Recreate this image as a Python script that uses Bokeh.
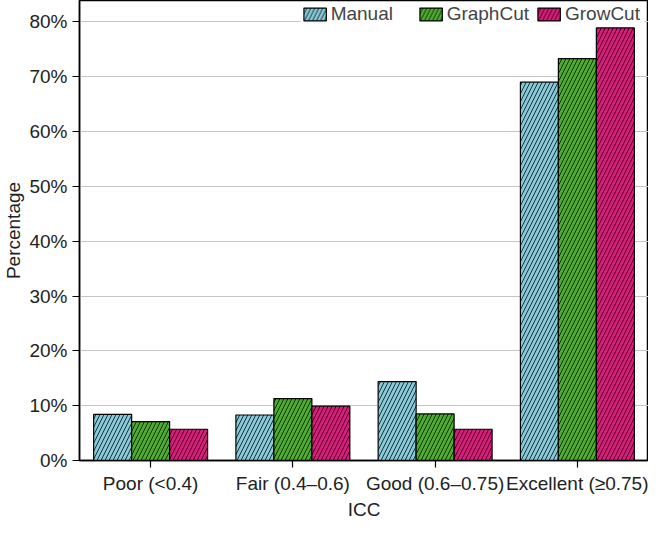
from bokeh.plotting import figure
from bokeh.models import ColumnDataSource, FactorRange, Range1d, FixedTicker, PrintfTickFormatter, Legend, LegendItem
from bokeh.transform import dodge
from bokeh.embed import file_html
from bokeh.resources import INLINE

categories = ["Poor (<0.4)", "Fair (0.4–0.6)", "Good (0.6–0.75)", "Excellent (≥0.75)"]
manual = [8.4, 8.3, 14.4, 69.0]
graphcut = [7.1, 11.3, 8.5, 73.3]
growcut = [5.7, 9.9, 5.7, 78.9]
series_names = ["Manual", "GraphCut", "GrowCut"]
y_ticks = [0, 10, 20, 30, 40, 50, 60, 70, 80]

colors = ["#86CBDA", "#4DB02D", "#DF1A7C"]
FONT = "Liberation Sans"
FS = "19px"

src = ColumnDataSource(dict(cat=categories, Manual=manual, GraphCut=graphcut, GrowCut=growcut))

p = figure(width=648, height=522, output_backend="svg", toolbar_location=None,
           x_range=FactorRange(factors=categories, range_padding=0),
           y_range=Range1d(0, 83.9))
p.min_border_left = 66
p.min_border_right = 0
p.min_border_top = 0
p.min_border_bottom = 50

bw = 0.267
offsets = [-bw, 0, bw]
renderers = []
for name, off, c in zip(series_names, offsets, colors):
    r = p.vbar(x=dodge("cat", off, range=p.x_range), top=name, width=bw, source=src,
               fill_color=c, line_color="black", line_width=1.2,
               hatch_pattern="/", hatch_color="black", hatch_scale=8, hatch_weight=0.9, hatch_alpha=0.85)
    renderers.append(r)

legend = Legend(items=[LegendItem(label=n, renderers=[r]) for n, r in zip(series_names, renderers)],
                orientation="horizontal", location="top_right")
legend.label_text_font = FONT
legend.label_text_font_size = FS
legend.label_standoff = 2
legend.label_width = 80
legend.glyph_width = 28
legend.glyph_height = 16
legend.spacing = 6
legend.padding = 0
legend.margin = 3
legend.border_line_alpha = 0
legend.background_fill_alpha = 1
legend.label_height = 16
p.add_layout(legend)

p.outline_line_color = "black"
p.outline_line_width = 1.5

p.xgrid.grid_line_color = None
p.ygrid.grid_line_color = "#c4c4c4"
p.ygrid.grid_line_width = 1
p.ygrid.ticker = FixedTicker(ticks=y_ticks)

p.yaxis.ticker = FixedTicker(ticks=y_ticks)
p.yaxis.formatter = PrintfTickFormatter(format="%d%%")
p.yaxis.minor_tick_line_color = None

for ax in (p.xaxis[0], p.yaxis[0]):
    ax.axis_line_color = "black"
    ax.axis_line_width = 1.5
    ax.major_tick_line_color = "black"
    ax.major_tick_line_width = 1.2
    ax.major_tick_out = 7
    ax.major_tick_in = 0
    ax.major_label_text_font = FONT
    ax.major_label_text_font_size = FS
    ax.major_label_text_color = "#222222"
    ax.axis_label_text_font = FONT
    ax.axis_label_text_font_size = FS
    ax.axis_label_text_font_style = "normal"
    ax.axis_label_text_color = "#222222"

p.xaxis.axis_label = "ICC"
p.yaxis.axis_label = "Percentage"
p.xaxis.major_label_standoff = 5
p.xaxis.axis_label_standoff = 2
p.yaxis.major_label_standoff = 5
p.yaxis.axis_label_standoff = 2

open("out.html", "w").write(file_html(p, INLINE))
